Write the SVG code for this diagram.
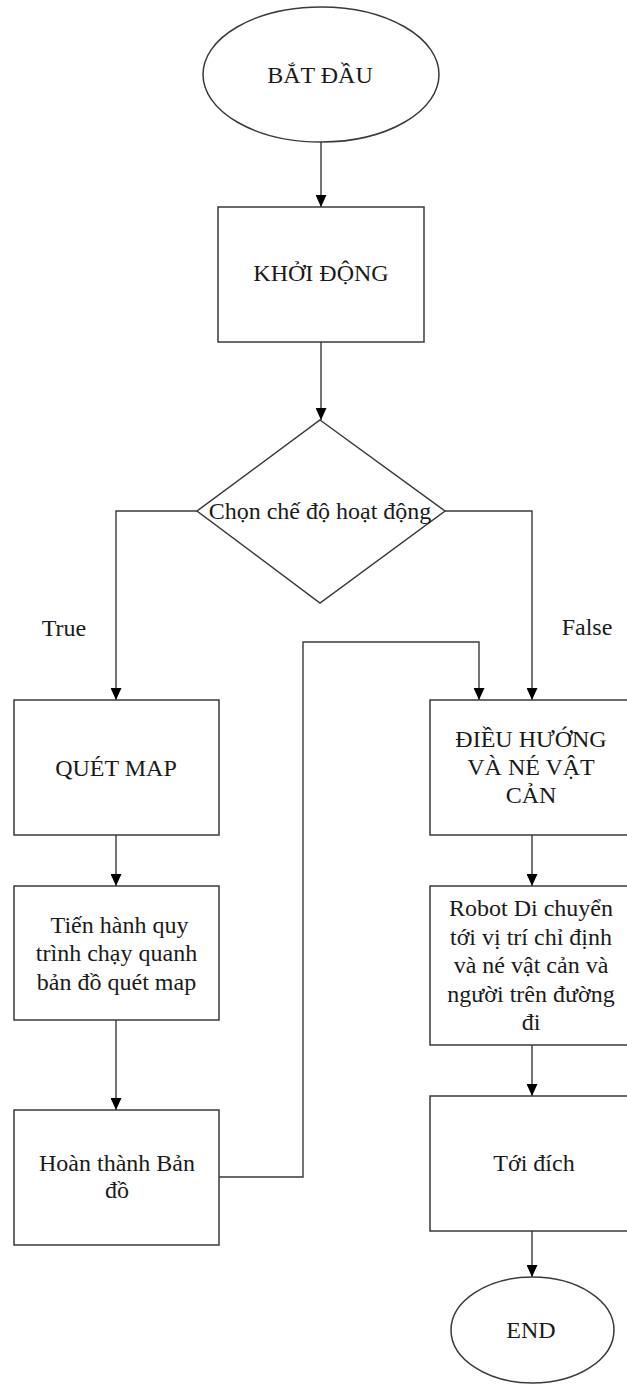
<svg xmlns="http://www.w3.org/2000/svg" width="627" height="1385" viewBox="0 0 627 1385">
<style>
.shape{fill:#fff;stroke:#3a3a3a;stroke-width:1.5}
.conn{fill:none;stroke:#3a3a3a;stroke-width:1.4}
text{font-family:"Liberation Serif","Times New Roman",serif;font-size:24px;fill:#1a1a1a;text-anchor:middle}
</style>
<defs>
<marker id="arr" markerUnits="userSpaceOnUse" markerWidth="12" markerHeight="11" refX="12" refY="5.5" orient="auto">
<path d="M0,0 L12,5.5 L0,11 z" fill="#000"/>
</marker>
</defs>
<rect width="627" height="1385" fill="#fff"/>
<g id="connectors">
<line class="conn" x1="321" y1="142" x2="321" y2="207" marker-end="url(#arr)"/>
<line class="conn" x1="321" y1="342" x2="321" y2="420" marker-end="url(#arr)"/>
<polyline class="conn" points="197,511 116,511 116,700" marker-end="url(#arr)"/>
<polyline class="conn" points="445,511 532,511 532,700" marker-end="url(#arr)"/>
<line class="conn" x1="116" y1="835" x2="116" y2="886" marker-end="url(#arr)"/>
<line class="conn" x1="116" y1="1020" x2="116" y2="1110" marker-end="url(#arr)"/>
<polyline class="conn" points="219,1177 303,1177 303,642 479,642 479,700" marker-end="url(#arr)"/>
<line class="conn" x1="532" y1="835" x2="532" y2="886" marker-end="url(#arr)"/>
<line class="conn" x1="532" y1="1045" x2="532" y2="1096" marker-end="url(#arr)"/>
<line class="conn" x1="532" y1="1231" x2="532" y2="1277" marker-end="url(#arr)"/>
<text x="64" y="636">True</text>
<text x="587" y="635">False</text>
</g>
<g id="start">
<ellipse class="shape" cx="321" cy="74.5" rx="118" ry="67.5"/>
<text x="320" y="83">BẮT ĐẦU</text>
</g>
<g id="init">
<rect class="shape" x="218" y="207" width="206" height="135"/>
<text x="321" y="281">KHỞI ĐỘNG</text>
</g>
<g id="decision">
<polygon class="shape" points="320,420 445,511 320,603 197,511"/>
<text x="320" y="519">Chọn chế độ hoạt động</text>
</g>
<g id="scan">
<rect class="shape" x="14" y="700" width="205" height="135"/>
<text x="116" y="776">QUÉT MAP</text>
</g>
<g id="scanproc">
<rect class="shape" x="14" y="886" width="205" height="134"/>
<text x="119.5" y="933">Tiến hành quy</text>
<text x="116.5" y="961">trình chạy quanh</text>
<text x="116.5" y="990">bản đồ quét map</text>
</g>
<g id="mapdone">
<rect class="shape" x="14" y="1110" width="205" height="135"/>
<text x="117" y="1171">Hoàn thành Bản</text>
<text x="117" y="1198">đồ</text>
</g>
<g id="nav">
<rect class="shape" x="430" y="700" width="205" height="135"/>
<text x="531" y="747">ĐIỀU HƯỚNG</text>
<text x="531" y="775">VÀ NÉ VẬT</text>
<text x="531" y="803">CẢN</text>
</g>
<g id="move">
<rect class="shape" x="430" y="886" width="205" height="159"/>
<text x="531" y="916">Robot Di chuyển</text>
<text x="531" y="945">tới vị trí chỉ định</text>
<text x="531" y="973">và né vật cản và</text>
<text x="531" y="1002">người trên đường</text>
<text x="531" y="1030">đi</text>
</g>
<g id="arrive">
<rect class="shape" x="430" y="1096" width="205" height="135"/>
<text x="534" y="1171">Tới đích</text>
</g>
<g id="end">
<ellipse class="shape" cx="532.5" cy="1330" rx="81.5" ry="53"/>
<text x="531" y="1338">END</text>
</g>
</svg>
